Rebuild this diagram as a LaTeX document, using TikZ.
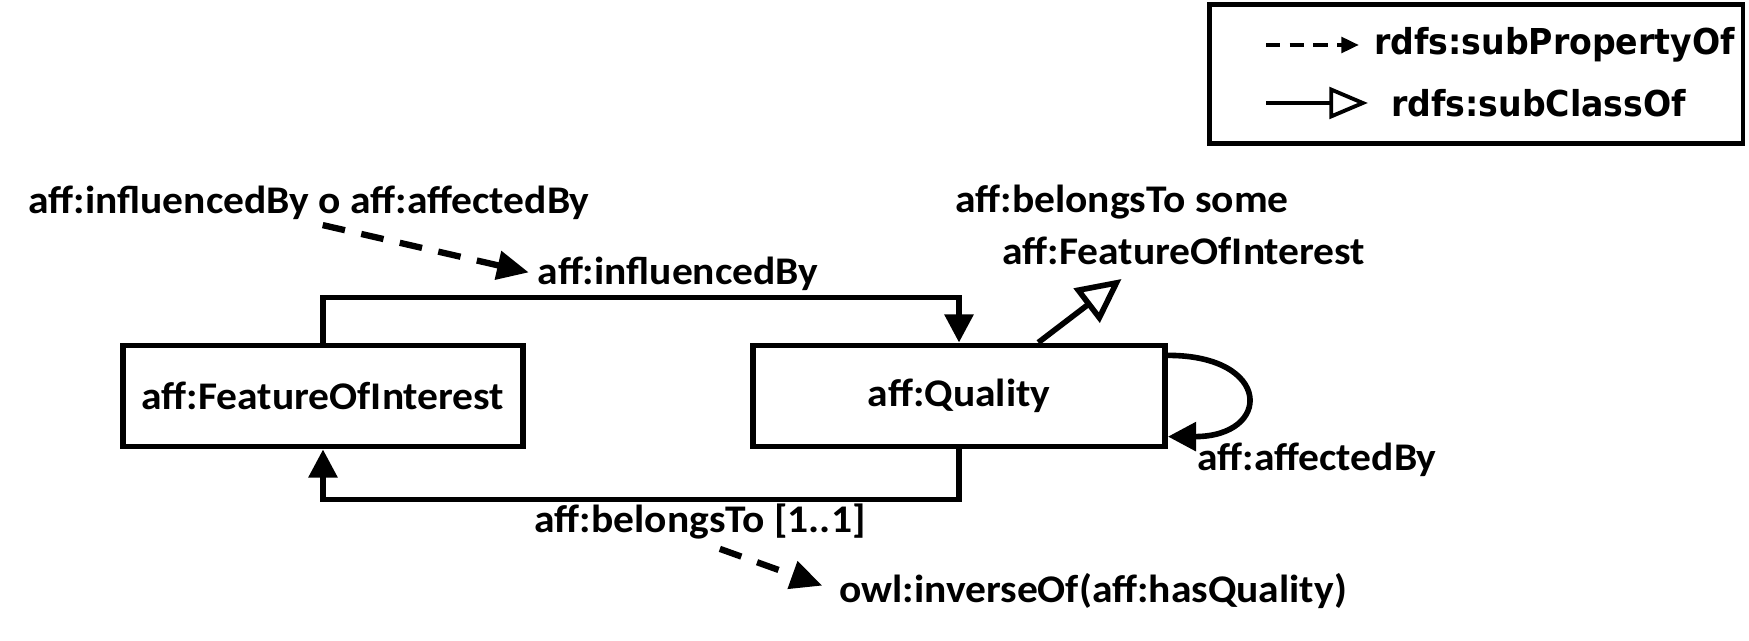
\documentclass[tikz,border=0pt]{standalone}
\usepackage{fontspec}
\setmainfont{Carlito}[FakeStretch=1.06]
\newfontfamily\legendfamily{DejaVu Sans}[FakeStretch=0.93]
\newcommand\mainfnt{\fontsize{22.3}{26}\selectfont\bfseries}
\newcommand\legfnt{\legendfamily\fontsize{20.3}{24}\selectfont\bfseries}
\usetikzlibrary{arrows.meta,positioning,calc}

\begin{document}
\begin{tikzpicture}[x=0.02cm, y=0.02cm,
    cls/.style={rectangle, draw, line width=3.4pt, minimum height=2.02cm, font=\mainfnt},
    lbl/.style={font=\mainfnt, inner sep=1pt},
    leg/.style={font=\legfnt, inner sep=1pt},
    rel/.style={line width=3.2pt, -{Triangle[length=16pt,width=16pt]}},
    subprop/.style={line width=3.6pt, dash pattern=on 13pt off 9.5pt, -{Triangle[length=18pt,width=16pt]}},
    subclass/.style={line width=3.2pt, -{Triangle[open,length=25pt,width=24pt,fill=white]}}]
    \useasboundingbox (0,0) rectangle (1749,-641);

    % Legend
    \node[rectangle, draw, line width=2.8pt, minimum width=10.68cm, minimum height=2.78cm] (legend) at (1476,-74) {};
    \coordinate (propstart) at (1266,-45);
    \node[leg, anchor=west] (proptext) at (1372,-45) {rdfs:subPropertyOf};
    \draw[line width=2pt, dash pattern=on 8pt off 5.5pt, -{Triangle[length=10pt,width=9pt]}, shorten >=7.5pt] (propstart) -- (proptext.west);
    \coordinate (classstart) at (1266,-103);
    \node[leg, anchor=west] (classtext) at (1389,-103) {rdfs:subClassOf};
    \draw[line width=2.2pt, -{Triangle[open,length=22pt,width=18pt,fill=white]}, shorten >=12pt] (classstart) -- (classtext.west);

    % Classes
    \node[cls, minimum width=8cm] (foi) at (323,-396) {aff:FeatureOfInterest};
    \node[cls, minimum width=8.24cm] (qual) at (959,-396) {aff:Quality};

    % influencedBy
    \node[lbl] (chain) at (309,-203) {aff:influencedBy o aff:affectedBy};
    \node[lbl] (infl) at (678,-274) {aff:influencedBy};
    \draw[rel] (foi.north) -- ++(0,45) -| (qual.north);
    \draw[subprop, shorten <=8pt, shorten >=4pt] (chain.south) -- (infl.west);

    % belongsTo
    \node[lbl] (belongs) at (700,-522) {aff:belongsTo [1..1]};
    \node[lbl] (inverse) at (1093,-591) {owl:inverseOf(aff:hasQuality)};
    \draw[rel] (qual.south) -- ++(0,-50) -| (foi.south);
    \draw[subprop, shorten <=12pt, shorten >=9pt] (belongs.south) -- (inverse.west);

    % restriction
    \node[lbl] (some) at (1122,-202) {aff:belongsTo some};
    \node[lbl] (somefoi) at (1184,-251) {aff:FeatureOfInterest};
    \draw[subclass] (qual.34) -- ($(somefoi.south west)+(121,-12)$);

    % affectedBy
    \node[lbl] (affected) at (1317,-460) {aff:affectedBy};
    \draw[rel] (qual.11) to[out=0, in=0, looseness=3.3] (qual.-11);
\end{tikzpicture}
\end{document}
